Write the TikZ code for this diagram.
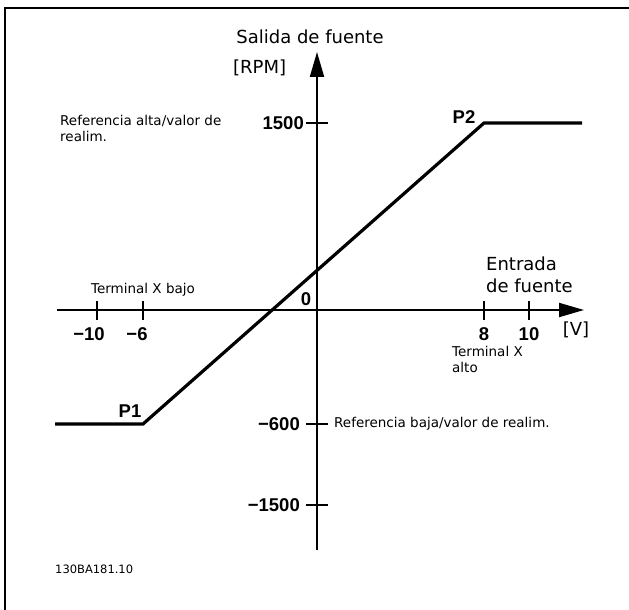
\documentclass[tikz,border=0pt]{standalone}
\usepackage{fontspec}
\setmainfont{DejaVu Sans}
\newfontfamily\numfont{Liberation Sans}
\usetikzlibrary{arrows.meta}
\begin{document}
\begin{tikzpicture}[x=1pt,y=-1pt,
  axis/.style={line width=2pt},
  tickln/.style={line width=1.2pt},
  curve/.style={line width=3.2pt, line join=miter},
  big/.style={inner sep=0pt, font=\fontsize{18}{22}\selectfont},
  small/.style={inner sep=0pt, font=\fontsize{13.5}{16}\selectfont},
  num/.style={inner sep=0pt, font=\fontsize{18.5}{21}\numfont\bfseries},
  arr/.style={-{Triangle[length=25pt,width=14pt]}}]
\useasboundingbox (0,0) rectangle (629,610);
% frame
\draw[line width=2pt] (5,610) -- (5,8.5) -- (629,8.5);
% coordinates
\coordinate (O) at (317,310);
\coordinate (ytop) at (317,52);
\coordinate (ybot) at (317,550);
\coordinate (xl) at (57,310);
\coordinate (xr) at (584,310);
% axes
\draw[axis,arr] (ybot) -- (ytop);
\draw[axis,arr] (xl) -- (xr);
% x ticks
\foreach \n/\x in {tm10/97, tm6/143, t8/484, t10/529}{
  \coordinate (\n a) at (\x,301);
  \coordinate (\n b) at (\x,320);
  \draw[tickln] (\n a) -- (\n b);
}
% y ticks
\foreach \n/\y in {t1500/123, tm600/424, tm1500/505}{
  \coordinate (\n a) at (306,\y);
  \coordinate (\n b) at (328,\y);
  \draw[tickln] (\n a) -- (\n b);
}
% curve
\coordinate (c0) at (55,424);
\coordinate (P1) at (143,424);
\coordinate (P2) at (484,123);
\coordinate (c3) at (582,123);
\draw[curve] (c0) -- (P1) -- (P2) -- (c3);
% labels
\node[big] (ylab) at (310,37) {Salida de fuente};
\node[big, anchor=west] (rpm) at (233,68) {[RPM]};
\node[small, anchor=west, align=left] (refalta) at (60,128) {Referencia alta/valor de\\realim.};
\node[num, anchor=east] (l1500) at (304,123) {1500};
\node[num, anchor=east] (lm600) at (300,424) {−600};
\node[num, anchor=east] (lm1500) at (300,505) {−1500};
\node[small, anchor=west] (refbaja) at (334,424) {Referencia baja/valor de realim.};
\node[num] (p2lab) at (464,117) {P2};
\node[num] (p1lab) at (130,411) {P1};
\node[num] (zero) at (306,299) {0};
\node[big, anchor=west, align=left] (entr) at (486,275) {Entrada\\de fuente};
\node[big] (vlab) at (576,330) {[V]};
\node[small] (tbajo) at (143,290) {Terminal X bajo};
\node[num] (lm10) at (89,334) {−10};
\node[num] (lm6) at (137,334) {−6};
\node[num] (l8) at (484,334) {8};
\node[num] (l10) at (529,334) {10};
\node[small, anchor=west, align=left] (talto) at (452,359) {Terminal X\\alto};
\node[inner sep=0pt, anchor=west, font=\fontsize{11.5}{14}\selectfont] (code) at (55,569) {130BA181.10};
\end{tikzpicture}
\end{document}
